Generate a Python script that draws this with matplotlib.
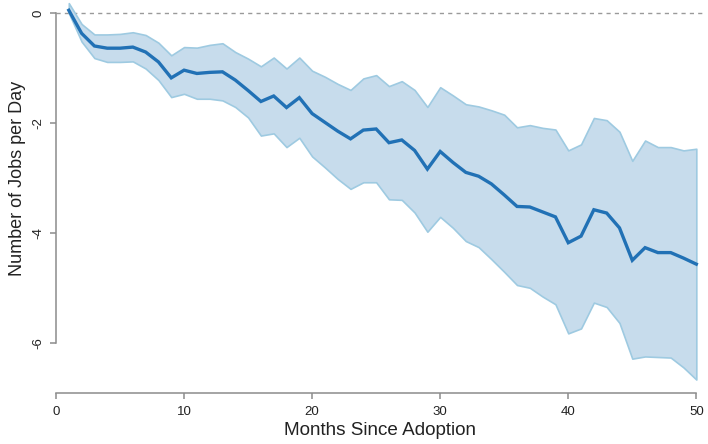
import matplotlib
matplotlib.use("Agg")
import matplotlib.pyplot as plt
import numpy as np

months = list(range(1, 51))
mean_effect = [0.05, -0.37, -0.60, -0.64, -0.64, -0.62, -0.71, -0.89, -1.18, -1.04,
               -1.10, -1.08, -1.07, -1.22, -1.41, -1.61, -1.51, -1.72, -1.54, -1.83,
               -1.99, -2.15, -2.29, -2.13, -2.11, -2.36, -2.31, -2.50, -2.84, -2.52,
               -2.72, -2.90, -2.97, -3.11, -3.31, -3.52, -3.53, -3.62, -3.71, -4.18,
               -4.06, -3.58, -3.64, -3.91, -4.50, -4.27, -4.36, -4.36, -4.46, -4.57]
upper_ci = [0.18, -0.20, -0.39, -0.39, -0.38, -0.35, -0.40, -0.54, -0.77, -0.62,
            -0.63, -0.58, -0.55, -0.71, -0.83, -0.97, -0.81, -1.01, -0.81, -1.05,
            -1.16, -1.29, -1.40, -1.19, -1.13, -1.33, -1.24, -1.40, -1.71, -1.35,
            -1.50, -1.66, -1.70, -1.77, -1.85, -2.08, -2.04, -2.09, -2.12, -2.50,
            -2.39, -1.91, -1.95, -2.16, -2.69, -2.32, -2.44, -2.44, -2.50, -2.47]
lower_ci = [0.00, -0.52, -0.82, -0.89, -0.89, -0.88, -1.01, -1.22, -1.53, -1.47,
            -1.56, -1.56, -1.59, -1.71, -1.90, -2.23, -2.19, -2.44, -2.27, -2.61,
            -2.81, -3.02, -3.20, -3.08, -3.08, -3.39, -3.40, -3.63, -3.98, -3.71,
            -3.91, -4.15, -4.26, -4.48, -4.71, -4.95, -5.00, -5.16, -5.30, -5.83,
            -5.74, -5.27, -5.35, -5.64, -6.29, -6.25, -6.26, -6.27, -6.45, -6.67]
x_ticks = [0, 10, 20, 30, 40, 50]
y_ticks = [0, -2, -4, -6]

plt.rcParams['font.family'] = ['Liberation Sans', 'DejaVu Sans']

W, H = 708, 444
fig = plt.figure(figsize=(W / 100, H / 100), dpi=100)
ax = fig.add_axes([56 / W, (H - 393) / H, (704 - 56) / W, 393 / H])

ax.axhline(0, color='#9a9a9a', linestyle=(0, (3, 3)), linewidth=1.0, zorder=1)
ax.fill_between(months, lower_ci, upper_ci, facecolor='#c7dcec', edgecolor='#9ecae1',
                linewidth=1.2, zorder=2)
ax.plot(months, mean_effect, color='#2171b5', linewidth=2.4, zorder=3,
        solid_joinstyle='miter')

ax.set_xlim(0, 50.6)
ax.set_ylim(-6.915, 0.237)

for s in ['top', 'right']:
    ax.spines[s].set_visible(False)
ax.spines['left'].set_bounds(-6, 0)
ax.spines['bottom'].set_bounds(0, 50)
for s in ['left', 'bottom']:
    ax.spines[s].set_color('#8c8c8c')
    ax.spines[s].set_linewidth(1.1)

ax.set_xticks(x_ticks)
ax.set_xticklabels([str(v) for v in x_ticks])
ax.set_yticks(y_ticks)
ax.set_yticklabels([str(v) for v in y_ticks], rotation=90, va='center')
ax.tick_params(axis='both', colors='#8c8c8c', labelcolor='#222222', length=4.5,
               width=1.1, labelsize=9.5)
ax.tick_params(axis='x', pad=5)
ax.tick_params(axis='y', pad=4)

ax.set_xlabel('Months Since Adoption', fontsize=13.6, color='#222222', labelpad=3)
ax.set_ylabel('Number of Jobs per Day', fontsize=13, color='#222222')
ax.yaxis.set_label_coords(-0.046, (393 - 178) / 393)

fig.savefig('out.png', dpi=100)
